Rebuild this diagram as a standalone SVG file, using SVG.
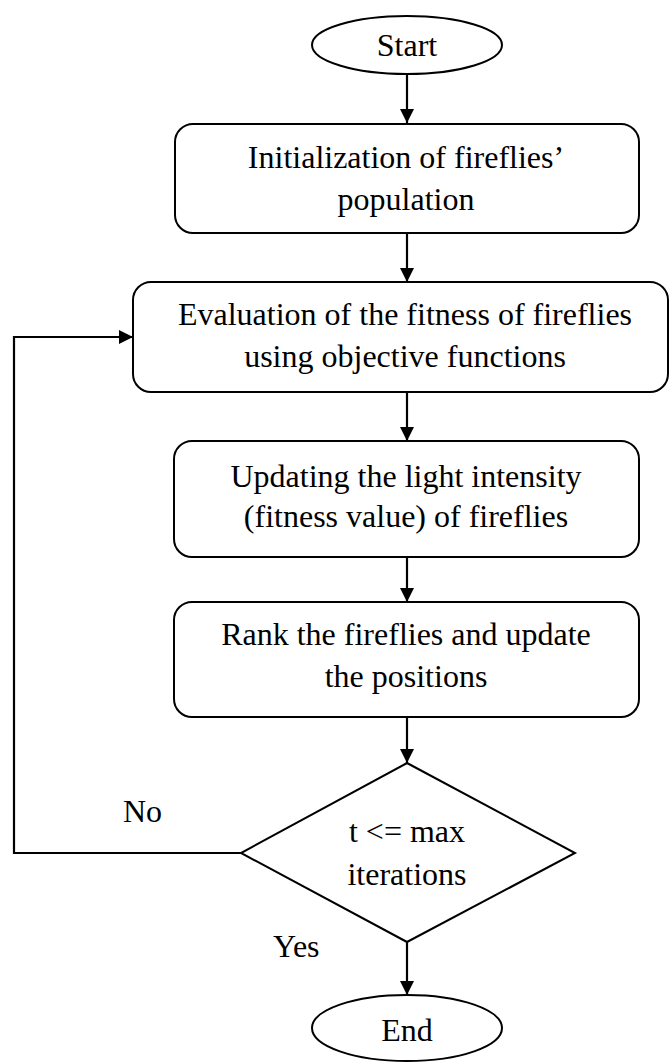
<svg xmlns="http://www.w3.org/2000/svg" width="670" height="1063" viewBox="0 0 670 1063">
  <style>
    .shape { fill: #ffffff; stroke: #000000; stroke-width: 2; }
    .line { fill: none; stroke: #000000; stroke-width: 2.2; }
    .label { font-family: "Liberation Serif", "Times New Roman", serif; font-size: 32px; fill: #000000; }
    .mid { text-anchor: middle; }
  </style>
  <defs>
    <marker id="arrow" viewBox="0 0 14 14" refX="14" refY="7" markerWidth="14" markerHeight="14" markerUnits="userSpaceOnUse" orient="auto">
      <path d="M0,0 L14,7 L0,14 Z" fill="#000000"/>
    </marker>
  </defs>
  <rect width="670" height="1063" fill="#ffffff"/>

  <!-- connectors -->
  <g id="connectors">
    <line class="line" x1="407" y1="74" x2="407" y2="123" marker-end="url(#arrow)"/>
    <line class="line" x1="407" y1="233" x2="407" y2="282" marker-end="url(#arrow)"/>
    <line class="line" x1="407" y1="392" x2="407" y2="441" marker-end="url(#arrow)"/>
    <line class="line" x1="407" y1="557" x2="407" y2="602" marker-end="url(#arrow)"/>
    <line class="line" x1="407" y1="717" x2="407" y2="763" marker-end="url(#arrow)"/>
    <line class="line" x1="407" y1="942" x2="407" y2="995" marker-end="url(#arrow)"/>
    <polyline class="line" points="241,853 14,853 14,337 133,337" marker-end="url(#arrow)"/>
    <text class="label" x="123" y="822">No</text>
    <text class="label" x="273" y="957">Yes</text>
  </g>

  <g id="start">
    <ellipse class="shape" cx="407" cy="45" rx="95" ry="29"/>
    <text class="label mid" x="407" y="56">Start</text>
  </g>

  <g id="init">
    <rect class="shape" x="175" y="124" width="464" height="109" rx="18" ry="18"/>
    <text class="label mid" x="406" y="168">Initialization of fireflies’</text>
    <text class="label mid" x="406" y="210">population</text>
  </g>

  <g id="evaluate">
    <rect class="shape" x="133" y="282" width="535" height="110" rx="18" ry="18"/>
    <text class="label mid" x="405" y="325">Evaluation of the fitness of fireflies</text>
    <text class="label mid" x="405" y="367">using objective functions</text>
  </g>

  <g id="update">
    <rect class="shape" x="174" y="441" width="465" height="116" rx="18" ry="18"/>
    <text class="label mid" x="406" y="487">Updating the light intensity</text>
    <text class="label mid" x="406" y="527">(fitness value) of fireflies</text>
  </g>

  <g id="rank">
    <rect class="shape" x="174" y="602" width="465" height="115" rx="18" ry="18"/>
    <text class="label mid" x="406" y="645">Rank the fireflies and update</text>
    <text class="label mid" x="406" y="687">the positions</text>
  </g>

  <g id="decision">
    <polygon class="shape" points="407,763 575,853 407,942 241,853"/>
    <text class="label mid" x="407" y="842">t &lt;= max</text>
    <text class="label mid" x="407" y="885">iterations</text>
  </g>

  <g id="end">
    <ellipse class="shape" cx="407" cy="1028" rx="95" ry="33"/>
    <text class="label mid" x="407" y="1041">End</text>
  </g>
</svg>
